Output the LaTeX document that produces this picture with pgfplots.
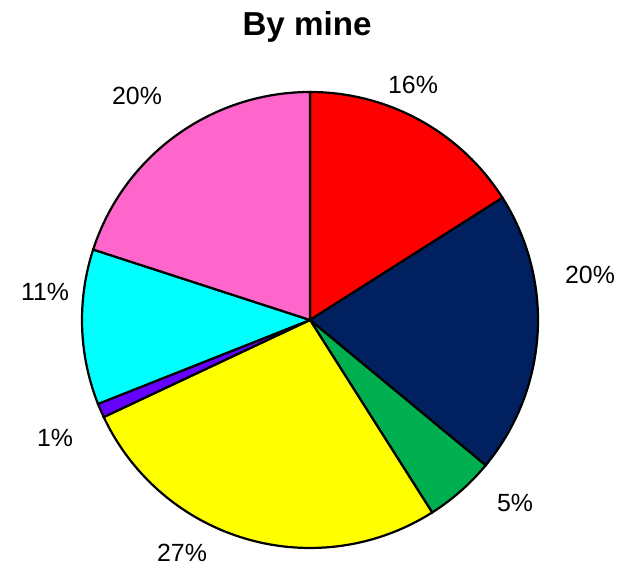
\documentclass[border=0pt]{standalone}
\usepackage{pgfplots}
\pgfplotsset{compat=1.18}
\usepackage{fontspec}
\setmainfont{Liberation Sans}

\definecolor{cRed}{HTML}{FF0000}
\definecolor{cNavy}{HTML}{002060}
\definecolor{cGreen}{HTML}{00B050}
\definecolor{cYellow}{HTML}{FFFF00}
\definecolor{cPurple}{HTML}{6600FF}
\definecolor{cCyan}{HTML}{00FFFF}
\definecolor{cPink}{HTML}{FF66CC}

% centre and radius of the pie, in axis units
\def\cx{310}
\def\cy{257}
\def\rr{228}
% #1 colour, #2 cumulative share before this slice (%), #3 share (%)
\newcommand\slice[3]{%
  \addplot[draw=black, line width=1.2pt, fill=#1, samples=80,
    domain={90-3.6*(#2)}:{90-3.6*(#2+#3)}]
    ({\cx+\rr*cos(x)}, {\cy+\rr*sin(x)}) -- (axis cs:\cx,\cy) -- cycle;
}

\begin{document}
\begin{tikzpicture}
\begin{axis}[
    width=12cm, height=11.008cm, scale only axis,
    xmin=0, xmax=629, ymin=0, ymax=577,
    xtick=\empty, ytick=\empty,
    axis line style={draw=none},
    clip=false,
]
    \slice{cRed}{0}{16}
    \slice{cNavy}{16}{20}
    \slice{cGreen}{36}{5}
    \slice{cYellow}{41}{27}
    \slice{cPurple}{68}{1}
    \slice{cCyan}{69}{11}
    \slice{cPink}{80}{20}

    \node[font=\fontsize{13.5}{16}\selectfont] at (axis cs:413,492) {16\%};
    \node[font=\fontsize{13.5}{16}\selectfont] at (axis cs:590,302) {20\%};
    \node[font=\fontsize{13.5}{16}\selectfont] at (axis cs:515,74) {5\%};
    \node[font=\fontsize{13.5}{16}\selectfont] at (axis cs:182,24) {27\%};
    \node[font=\fontsize{13.5}{16}\selectfont] at (axis cs:55,139) {1\%};
    \node[font=\fontsize{13.5}{16}\selectfont] at (axis cs:45,285) {11\%};
    \node[font=\fontsize{13.5}{16}\selectfont] at (axis cs:137,481) {20\%};
    \node[font=\bfseries\fontsize{18}{22}\selectfont] at (axis cs:307,550) {By mine};
\end{axis}
\end{tikzpicture}
\end{document}
